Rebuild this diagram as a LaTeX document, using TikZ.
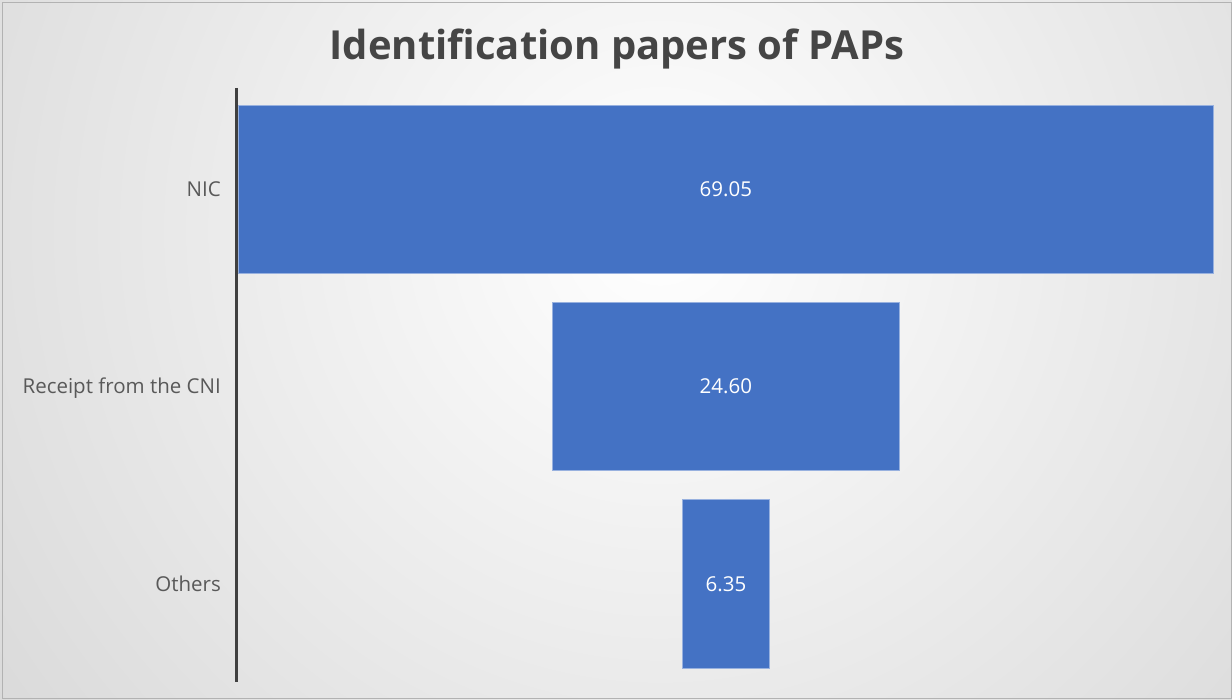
\documentclass[tikz,border=0pt]{standalone}
\usepackage{fontspec}
\setmainfont{Open Sans}
\definecolor{barblue}{HTML}{4472C4}
\definecolor{txtgray}{HTML}{595959}
\definecolor{titlegray}{HTML}{454545}
\definecolor{axisgray}{HTML}{404040}
\begin{document}
\begin{tikzpicture}[x=1pt,y=-1pt,
  bar/.style={fill=barblue, draw=barblue!55!white, line width=0.8pt, anchor=north west, inner sep=0pt},
  val/.style={text=white, font=\fontsize{20.5}{24}\selectfont, inner sep=0pt},
  cat/.style={anchor=east, text=txtgray, font=\fontsize{20.5}{24}\selectfont, inner sep=0pt}]
\useasboundingbox (0,0) rectangle (1232,700);
\begin{scope}
\clip (0,0) rectangle (1232,700);
\shade[inner color=white, outer color=black!24] (660,230) circle (1350);
\end{scope}
\draw[black!30, line width=1pt] (2,3) rectangle (1231,698);
\node[font=\fontsize{40}{44}\bfseries\selectfont, text=titlegray, inner sep=0pt] (title) at (617,49) {Identification papers of PAPs};
\node[bar, minimum width=975pt, minimum height=168pt] (nic) at (238,105) {};
\node[val] (nicv) at (nic.center) {69.05};
\node[bar, minimum width=347pt, minimum height=168pt] (rec) at (552,302) {};
\node[val] (recv) at (rec.center) {24.60};
\node[bar, minimum width=87pt, minimum height=169pt] (oth) at (682,499) {};
\node[val] (othv) at (oth.center) {6.35};
\node[cat] (lnic) at (221,189) {NIC};
\node[cat] (lrec) at (221,388) {Receipt from the CNI};
\node[cat] (loth) at (221,584) {Others};
\coordinate (axtop) at (236,88);
\coordinate (axbot) at (236,682);
\draw[axisgray, line width=3pt] (axtop) -- (axbot);
\end{tikzpicture}
\end{document}
